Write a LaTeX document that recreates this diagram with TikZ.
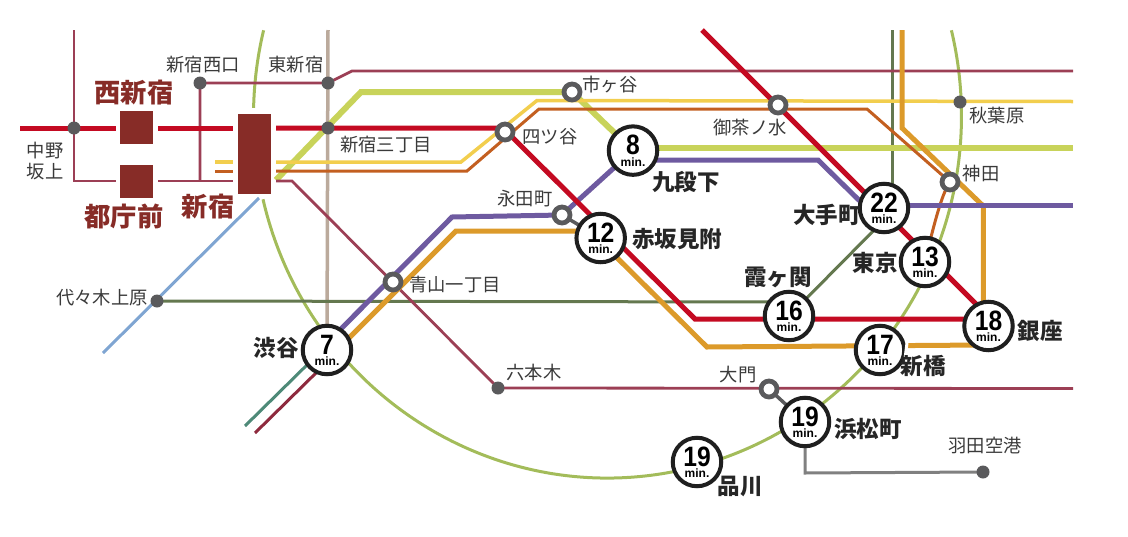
\documentclass[tikz,border=0pt]{standalone}
\usepackage{fontspec}
\setmainfont{Noto Sans CJK JP}
\newfontfamily\numf[FakeStretch=0.88]{Liberation Sans}
\newfontfamily\minf{Liberation Sans}
\usetikzlibrary{backgrounds}
\definecolor{cRed}{HTML}{C40A22}
\definecolor{cPlum}{HTML}{9C3F55}
\definecolor{cLime}{HTML}{C8D35A}
\definecolor{cYellow}{HTML}{F2CE4E}
\definecolor{cBrown}{HTML}{C35F20}
\definecolor{cPurple}{HTML}{6E5AA0}
\definecolor{cOrange}{HTML}{DC9A2A}
\definecolor{cOlive}{HTML}{64784F}
\definecolor{cTaupe}{HTML}{BBAA9C}
\definecolor{cBlue}{HTML}{7FA5D2}
\definecolor{cYama}{HTML}{A3BC5A}
\definecolor{cTeal}{HTML}{4E8A78}
\definecolor{cWine}{HTML}{8E2A3E}
\definecolor{cGrayL}{HTML}{808080}
\definecolor{cDot}{HTML}{5A5A5C}
\definecolor{cBrick}{HTML}{872C27}
\definecolor{cInk}{HTML}{3A3A3A}
\tikzset{
  x=1pt,y=-1pt,
  bigst/.style={circle,draw=black!88,line width=4pt,fill=white,minimum size=48.5pt,inner sep=0pt},
  numlabel/.style={font=\numf\bfseries\fontsize{28}{28}\selectfont,text=black,yshift=5.5pt,inner sep=0pt},
  minlabel/.style={font=\minf\bfseries\fontsize{12}{12}\selectfont,text=black,yshift=-11.5pt,inner sep=0pt},
  ring/.style={circle,draw=cDot,line width=4.8pt,fill=white,minimum size=16pt,inner sep=0pt},
  dot/.style={circle,fill=cDot,minimum size=13pt,inner sep=0pt},
  brick/.style={fill=cBrick,draw=none,inner sep=0pt},
  stn/.style={font=\fontsize{18.3}{18.3}\selectfont,text=cInk,inner sep=0pt,align=center},
  big/.style={font=\bfseries\fontsize{22.5}{22.5}\selectfont,text=black!85,inner sep=0pt},
  bigred/.style={font=\bfseries\fontsize{26.3}{26.3}\selectfont,text=cBrick,inner sep=0pt},
  ln/.style={line join=miter,line cap=butt},
}
\newcommand{\bigstn}[3]{\node[bigst,label={[numlabel]center:#3},label={[minlabel]center:min.}] (#1) at (#2) {};}
\begin{document}
\begin{tikzpicture}
\useasboundingbox (0,0) rectangle (1128,536);
% brick stations
\node[brick,minimum width=33.5pt,minimum height=33pt] (nishi) at (136.7,127.2) {};
\node[brick,minimum width=33.5pt,minimum height=33pt] (tocho) at (136.7,181.3) {};
\node[brick,minimum width=33.5pt,minimum height=80.6pt] (shinjuku) at (254.5,154) {};
% dots
\node[dot] (nakano) at (74,128) {};
\node[dot] (nishiguchi) at (200,83) {};
\node[dot] (higashi) at (328,83) {};
\node[dot] (sanchome) at (328,128) {};
\node[dot] (yoyogi) at (157,301) {};
\node[dot] (roppongi) at (498,388) {};
\node[dot] (akiba) at (960,102) {};
\node[dot] (haneda) at (983,472) {};
% rings
\node[ring] (ichigaya) at (572,92) {};
\node[ring] (yotsuya) at (505,132) {};
\node[ring] (ochanomizu) at (778,105) {};
\node[ring] (kanda) at (950,182) {};
\node[ring] (nagatacho) at (562,215) {};
\node[ring] (aoyama) at (393,282) {};
\node[ring] (daimon) at (769,389) {};
% big stations
\bigstn{shibuya}{327,350}{7}
\bigstn{kudan}{633,150.6}{8}
\bigstn{akasaka}{600.7,238}{12}
\bigstn{otemachi}{884,208}{22}
\bigstn{tokyo}{925,262}{13}
\bigstn{kasumi}{789,316}{16}
\bigstn{shinbashi}{880,350}{17}
\bigstn{ginza}{988.5,326}{18}
\bigstn{hama}{805,422}{19}
\bigstn{shinagawa}{697,462}{19}
% free ends and bends
\coordinate (yamaC) at (607.5,116);
\coordinate (redL) at (20,128);
\coordinate (redN1) at (116,128);
\coordinate (redN2) at (158,128);
\coordinate (redS1) at (233,128);
\coordinate (redS2) at (276,128);
\coordinate (redY) at (503,128);
\coordinate (redB) at (695,319);
\coordinate (redG) at (980,319);
\coordinate (redT) at (702,30);
\coordinate (redE) at (985,313);
\coordinate (plT) at (74,30);
\coordinate (plC) at (74,181);
\coordinate (plT1) at (116,181);
\coordinate (plT2) at (158,181);
\coordinate (plJ) at (200,181);
\coordinate (plS1) at (233,181);
\coordinate (plS2) at (276,181);
\coordinate (plB) at (292,181);
\coordinate (plR) at (1073,388.5);
\coordinate (plN) at (352,71);
\coordinate (plNE) at (1073,71);
\coordinate (yeL) at (215,162);
\coordinate (yeL2) at (233,162);
\coordinate (yeS) at (276,162);
\coordinate (yeA) at (461,162);
\coordinate (yeB) at (537,100.5);
\coordinate (yeE) at (1073,101.5);
\coordinate (brL) at (215,171);
\coordinate (brL2) at (233,171);
\coordinate (brS) at (276,171);
\coordinate (brA) at (467,171);
\coordinate (brB) at (539,109);
\coordinate (brC) at (867,109);
\coordinate (brD) at (943,192);
\coordinate (brE) at (936,215);
\coordinate (liS) at (276,180);
\coordinate (liA) at (361,92);
\coordinate (liK) at (633,148);
\coordinate (liE) at (1073,148);
\coordinate (puS) at (325,345);
\coordinate (puA) at (452,217);
\coordinate (puK) at (633,160);
\coordinate (puB) at (818,160);
\coordinate (puC) at (870,211);
\coordinate (puO) at (884,205.7);
\coordinate (puE) at (1073,205.7);
\coordinate (orS) at (335,352);
\coordinate (orA) at (456,231);
\coordinate (orB) at (590,231);
\coordinate (orC) at (707,347);
\coordinate (orD) at (984,345);
\coordinate (orT) at (902,30);
\coordinate (orU) at (902,128);
\coordinate (orV) at (983.3,206);
\coordinate (orW) at (983.3,310);
\coordinate (olY) at (789,302);
\coordinate (olT) at (892,30);
\coordinate (olO) at (892,195);
\coordinate (olD) at (888,216);
\coordinate (taT) at (328,30);
\coordinate (blA) at (103,353);
\coordinate (blB) at (259,198);
\coordinate (teA) at (245,426);
\coordinate (teB) at (312,360);
\coordinate (wiA) at (255,433);
\coordinate (wiB) at (320,369);
\coordinate (haC) at (805,473);
\begin{scope}[on background layer]
  % Yamanote
  \draw[cYama,line width=3pt,ln] ([shift={(166.3:354pt and 362pt)}]yamaC) arc[start angle=166.3,end angle=178.7,x radius=354pt,y radius=362pt];
  \draw[cYama,line width=3pt,ln] ([shift={(193.3:354pt and 362pt)}]yamaC) arc[start angle=193.3,end angle=373.7,x radius=354pt,y radius=362pt];
  % taupe
  \draw[cTaupe,line width=3.5pt,ln] (taT) -- (shibuya.center);
  % olive
  \draw[cOlive,line width=3pt,ln] (yoyogi.center) -- (olY);
  \draw[cOlive,line width=3pt,ln] (kasumi.center) -- (olD);
  \draw[cOlive,line width=3pt,ln] (olT) -- (olO);
  % lime
  \draw[cLime,line width=6pt,ln] (liS) -- (liA) -- (ichigaya.center) -- (kudan.center);
  \draw[cLime,line width=6pt,ln] (liK) -- (liE);
  % plum
  \draw[cPlum,line width=2.8pt,ln] (plT) -- (plC) -- (plT1);
  \draw[cPlum,line width=2.8pt,ln] (plT2) -- (plS1);
  \draw[cPlum,line width=2.8pt,ln] (plJ) -- (nishiguchi.center) -- (higashi.center) -- (plN) -- (plNE);
  \draw[cPlum,line width=2.8pt,ln] (plS2) -- (plB) -- (roppongi.center) -- (plR);
  % yellow and brown
  \draw[cYellow,line width=3.5pt,ln] (yeL) -- (yeL2);
  \draw[cYellow,line width=3.5pt,ln] (yeS) -- (yeA) -- (yeB) -- (yeE);
  \draw[cBrown,line width=3pt,ln] (brL) -- (brL2);
  \draw[cBrown,line width=3pt,ln] (brS) -- (brA) -- (brB) -- (brC) -- (kanda.center);
  \draw[cBrown,line width=3pt,ln] (kanda.center) .. controls (brD) and (brE) .. (tokyo.center);
  % blue
  \draw[cBlue,line width=3pt,ln] (blA) -- (blB);
  % teal and wine
  \draw[cTeal,line width=3pt,ln] (teA) -- (teB);
  \draw[cWine,line width=3pt,ln] (wiA) -- (wiB);
  % orange
  \draw[cOrange,line width=5pt,ln] (orS) -- (orA) -- (orB) -- (orC) -- (orD);
  \draw[cOrange,line width=5pt,ln] (orT) -- (orU) -- (orV) -- (orW);
  % purple
  \draw[cPurple,line width=5pt,ln] (puS) -- (puA) -- (nagatacho.center) -- (kudan.center);
  \draw[cPurple,line width=5pt,ln] (puK) -- (puB) -- (puC);
  \draw[cPurple,line width=5pt,ln] (puO) -- (puE);
  % red
  \draw[cRed,line width=5pt,ln] (redL) -- (redN1);
  \draw[cRed,line width=5pt,ln] (redN2) -- (redS1);
  \draw[cRed,line width=5pt,ln] (redS2) -- (redY) -- (redB) -- (redG);
  \draw[cRed,line width=5pt,ln] (redT) -- (redE);
  % connectors
  \draw[cDot,line width=3.5pt,ln] (nagatacho.center) -- (akasaka.center);
  \draw[cDot,line width=3.5pt,ln] (daimon.center) -- (hama.center);
  \draw[cGrayL,line width=3pt,ln] (hama.center) -- (haC) -- (haneda.center);
\end{scope}
% text labels
\node[stn] (tNishiguchi) at (203,65) {新宿西口};
\node[stn] (tHigashi) at (296,65) {東新宿};
\node[bigred] (tNishi) at (134,93) {西新宿};
\node[stn] (tNakano) at (45,161) {中野\\[2pt]坂上};
\node[bigred] (tTocho) at (124,217) {都庁前};
\node[bigred] (tShinjuku) at (208,207) {新宿};
\node[stn] (tSanchome) at (386,145) {新宿三丁目};
\node[stn] (tYotsuya) at (550,137) {四ツ谷};
\node[stn] (tIchigaya) at (610,85) {市ヶ谷};
\node[stn] (tOchanomizu) at (750,128) {御茶ノ水};
\node[big] (tKudan) at (686,182) {九段下};
\node[stn] (tNagata) at (525,199) {永田町};
\node[big] (tAkasaka) at (677,239) {赤坂見附};
\node[big] (tOtemachi) at (827,215) {大手町};
\node[big] (tTokyo) at (875,263) {東京};
\node[stn] (tAkiba) at (997,116) {秋葉原};
\node[stn] (tKanda) at (981,174) {神田};
\node[big] (tKasumi) at (778,277) {霞ヶ関};
\node[stn] (tAoyama) at (455,285) {青山一丁目};
\node[big] (tShibuya) at (276,348) {渋谷};
\node[stn] (tYoyogi) at (102,298) {代々木上原};
\node[stn] (tRoppongi) at (534,373) {六本木};
\node[stn] (tDaimon) at (738,375) {大門};
\draw[white,line width=3pt] (907,343) -- (904,367);
\node[big] (tShinbashi) at (923,366) {新橋};
\node[big] (tGinza) at (1040,331) {銀座};
\node[big] (tHama) at (868,429) {浜松町};
\node[stn] (tHaneda) at (985,446) {羽田空港};
\node[big] (tShinagawa) at (740,486) {品川};
\end{tikzpicture}
\end{document}
